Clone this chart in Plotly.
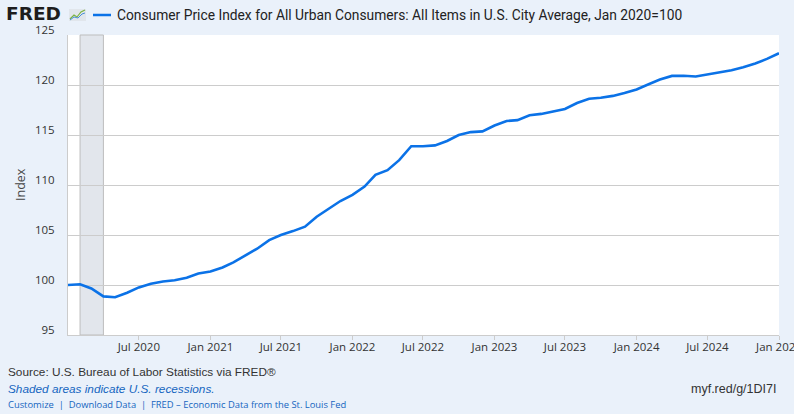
import plotly.graph_objects as go

# CPI-U, all items, U.S. city average, monthly, rebased Jan 2020 = 100
months = [f"{y}-{m:02d}-01" for y in range(2020, 2025) for m in range(1, 13)] + ["2025-01-01"]
cpi_index = [
    100.00, 100.08, 99.65, 98.86, 98.78, 99.22, 99.76, 100.13, 100.35, 100.47, 100.72, 101.15,
    101.34, 101.75, 102.27, 102.98, 103.63, 104.49, 105.00, 105.39, 105.83, 106.83, 107.63, 108.40,
    109.02, 109.84, 111.01, 111.48, 112.48, 113.88, 113.87, 113.96, 114.40, 114.99, 115.29, 115.36,
    115.95, 116.40, 116.49, 116.98, 117.11, 117.36, 117.60, 118.20, 118.63, 118.72, 118.91, 119.19,
    119.55, 120.08, 120.54, 120.91, 120.92, 120.85, 121.04, 121.26, 121.48, 121.78, 122.16, 122.61,
    123.18,
]
tick_dates = ["2020-07-01", "2021-01-01", "2021-07-01", "2022-01-01", "2022-07-01",
              "2023-01-01", "2023-07-01", "2024-01-01", "2024-07-01", "2025-01-01"]
tick_text = ["Jul 2020", "Jan 2021", "Jul 2021", "Jan 2022", "Jul 2022",
             "Jan 2023", "Jul 2023", "Jan 2024", "Jul 2024", "Jan 2025"]
y_ticks = [95, 100, 105, 110, 115, 120, 125]
recession = ("2020-02-01", "2020-04-01")

BG = "#EAF1FA"
LINE = "#0B72E7"
LINK = "#1565C0"
W, H = 800, 420
L, R, T, B = 68, 21, 35, 85


# pixel -> paper helpers, only for the page furniture (logo, legend, footer)
def px(x):
    return (x - L) / (W - L - R)


def py(y):
    return (H - B - y) / (H - T - B)


fig = go.Figure()
fig.add_trace(go.Scatter(x=months, y=cpi_index, mode="lines",
                         line=dict(color=LINE, width=2.6), showlegend=False,
                         hovertemplate="%{x|%b %Y}: %{y:.3f}<extra></extra>"))

shapes = [
    dict(type="rect", xref="x", yref="paper", x0=recession[0], x1=recession[1],
         y0=0, y1=1, fillcolor="#E2E6EC", line=dict(color="#BDBDBD", width=1),
         layer="below"),
    # legend swatch
    dict(type="line", xref="paper", yref="paper", x0=px(93), x1=px(111),
         y0=py(15), y1=py(15), line=dict(color=LINE, width=2.5)),
    # little logo chart icon
    dict(type="rect", xref="paper", yref="paper", x0=px(69), x1=px(86),
         y0=py(21), y1=py(9), fillcolor="#E1E6EC", line=dict(width=0)),
    dict(type="path", xref="paper", yref="paper",
         path=f"M{px(70)},{py(19)} L{px(74)},{py(15)} L{px(77)},{py(17)} "
              f"L{px(81)},{py(12)} L{px(85)},{py(10)}",
         line=dict(color="#7CB342", width=1.2)),
    dict(type="path", xref="paper", yref="paper",
         path=f"M{px(70)},{py(20)} L{px(74)},{py(17)} L{px(78)},{py(18)} "
              f"L{px(82)},{py(14)} L{px(85)},{py(13)}",
         line=dict(color="#4A90D9", width=1)),
    # page edge outside the grey-blue panel
    dict(type="rect", xref="paper", yref="paper", x0=px(794), x1=px(805),
         y0=py(425), y1=py(-5), fillcolor="white", line=dict(width=0), layer="above"),
    dict(type="rect", xref="paper", yref="paper", x0=px(-5), x1=px(805),
         y0=py(425), y1=py(414), fillcolor="white", line=dict(width=0), layer="above"),
]

annotations = [
    dict(text="<b>FRED</b>", x=px(4), y=py(13.5), xanchor="left", yanchor="middle",
         font=dict(family="DejaVu Sans", size=18.5, color="#1d1d1d")),
    dict(text="Consumer Price Index for All Urban Consumers: All Items in U.S. City Average, Jan 2020=100",
         x=px(115), y=py(15), xanchor="left", yanchor="middle",
         font=dict(family="Roboto", size=13.8, color="#222")),
    dict(text="Index", x=px(20), y=py(185), textangle=-90, xanchor="center", yanchor="middle",
         font=dict(family="Open Sans", size=12.5, color="#444")),
    dict(text="Source: U.S. Bureau of Labor Statistics via FRED®", x=px(6), y=py(372),
         xanchor="left", yanchor="middle",
         font=dict(family="Liberation Sans", size=11.8, color="#333")),
    dict(text="<i>Shaded areas indicate U.S. recessions.</i>", x=px(6), y=py(389),
         xanchor="left", yanchor="middle",
         font=dict(family="Liberation Sans", size=11.8, color=LINK)),
    dict(text="Customize  |  Download Data  |  FRED – Economic Data from the St. Louis Fed",
         x=px(6), y=py(404), xanchor="left", yanchor="middle",
         font=dict(family="Open Sans", size=9.4, color=LINK)),
    dict(text="myf.red/g/1DI7I", x=px(778), y=py(389), xanchor="right", yanchor="middle",
         font=dict(family="Liberation Sans", size=12.5, color="#333")),
]
for a in annotations:
    a.update(xref="paper", yref="paper", showarrow=False)

fig.update_layout(
    width=W, height=H,
    margin=dict(l=L, r=R, t=T, b=B, autoexpand=False),
    paper_bgcolor=BG, plot_bgcolor="white",
    font=dict(family="Open Sans", size=11, color="#333"),
    xaxis=dict(type="date", range=["2020-01-01", "2025-01-01"],
               tickvals=tick_dates, ticktext=tick_text,
               showgrid=False, zeroline=False, automargin=False,
               ticks="outside", ticklen=4, tickcolor="#CCCCCC",
               ticklabelstandoff=-3, ticklabeloverflow="allow",
               showline=True, linecolor="#CCCCCC", linewidth=1,
               tickfont=dict(family="Open Sans", size=11.5, color="#333")),
    # labels sit a little above their gridline, as on fred.stlouisfed.org
    yaxis=dict(range=[95, 125], tickvals=y_ticks, showgrid=True,
               gridcolor="#CCCCCC", gridwidth=1, zeroline=False, automargin=False,
               showline=True, linecolor="#CCCCCC", linewidth=1,
               ticks="", ticklabelstandoff=10, ticklabelshift=-5,
               ticklabeloverflow="allow",
               tickfont=dict(family="Open Sans", size=11.5, color="#333")),
    shapes=shapes,
    annotations=annotations,
    showlegend=False,
)

# drop the browser's default 8px body margin so the panel sits at 0,0
fig.write_html("out.html", config={"displayModeBar": False},
               post_script="document.body.style.margin='0';")
